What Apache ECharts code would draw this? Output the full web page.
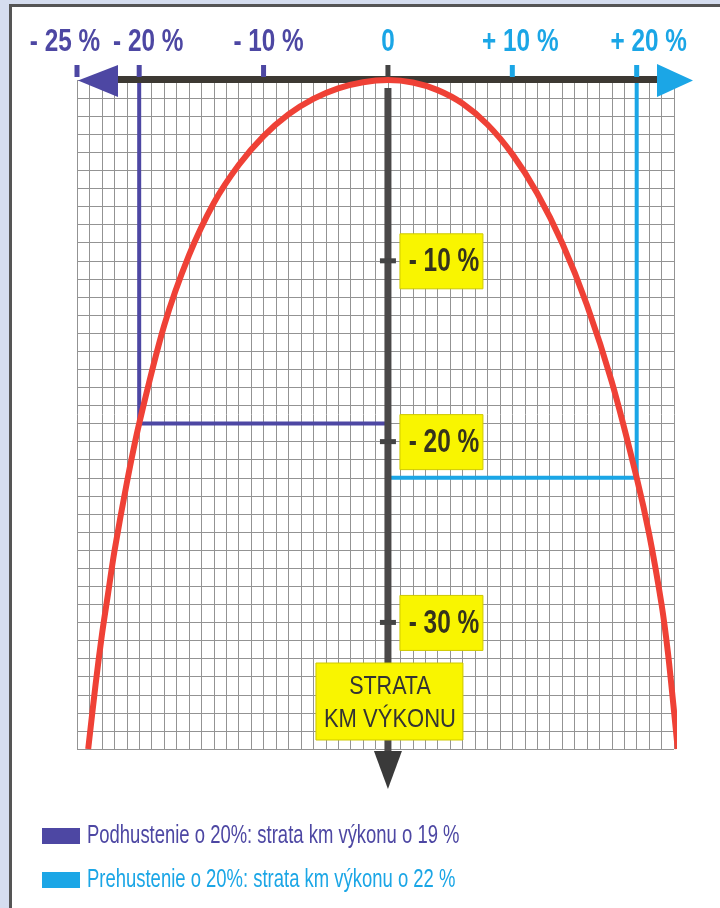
<!DOCTYPE html>
<html>
<head>
<meta charset="utf-8">
<script src="https://cdn.jsdelivr.net/npm/echarts@6.0.0/dist/echarts.min.js"></script>
<style>
  html, body { margin: 0; padding: 0; }
  body { width: 720px; height: 908px; background: #d5ddef; position: relative; overflow: hidden; }
  #frame { position: absolute; left: 9px; top: 4px; width: 720px; height: 920px; background: #ffffff; border-left: 3px solid #555; border-top: 3px solid #555; }
  #chart { position: absolute; left: 0; top: 0; width: 720px; height: 908px; }
</style>
</head>
<body>
<div id="frame"></div>
<div id="chart"></div>
<script>
// ---- data ----
const xMin = -25, xMax = 23, yMin = -37, yMax = 0;
const xTicks = [-25, -20, -10, 0, 10, 20];
const xTickLabels = ['- 25 %', '- 20 %', '- 10 %', '0', '+ 10 %', '+ 20 %'];
const yTicks = [-10, -20, -30];
const yTickLabels = ['- 10 %', '- 20 %', '- 30 %'];
const axisTitle = ['STRATA', 'KM VÝKONU'];

// pressure deviation (%) vs loss of km performance (%)
const curveX = [-24.1, -23.5, -23.0, -22.5, -22.0, -21.0, -20.0, -18.0, -16.0, -14.0, -12.0, -10.0, -8.0, -6.0, -4.0, -2.0, 0,
                2.0, 4.0, 6.0, 8.0, 10.0, 12.0, 14.0, 16.0, 18.0, 20.0, 21.0, 22.0, 22.5, 23.0, 23.3];
const curveY = [-37.0, -33.4, -30.7, -28.4, -26.1, -22.3, -19.0, -13.6, -9.7, -6.8, -4.7, -3.1, -1.9, -1.04, -0.46, -0.12, 0,
                -0.14, -0.56, -1.3, -2.46, -4.1, -6.26, -9.0, -12.44, -16.7, -22.0, -25.1, -29.0, -31.6, -34.9, -37.0];

const underX = [-20, -20, 0];
const underY = [0, -19, -19];
const overX = [20, 20, 0];
const overY = [0, -22, -22];

const legendUnder = 'Podhustenie o 20%: strata km výkonu o 19 %';
const legendOver = 'Prehustenie o 20%: strata km výkonu o 22 %';

// ---- styles ----
const C_UNDER = '#4d47a3';
const C_OVER = '#1ba6e6';
const C_RED = '#ef4136';
const C_AXIS = '#3d3933';
const C_YELLOW = '#f9f500';
const FONT = "'Liberation Sans', Arial, sans-serif";
const labelShift = [-12, 9, 5, 0, 8, 12];

const zip = (a, b) => a.map((v, i) => [v, b[i]]);

const chart = echarts.init(document.getElementById('chart'), null, { renderer: 'canvas' });

function narrowText(text, x, y, size, weight, color, sx, align) {
  return {
    type: 'text', x: x, y: y, scaleX: sx, scaleY: 1,
    style: { text: text, x: 0, y: 0, fill: color, fontSize: size, fontWeight: weight,
      fontFamily: FONT, align: align || 'center', verticalAlign: 'middle' }
  };
}

function renderAxes(params, api) {
  const o = api.coord([0, 0]);
  const l = api.coord([xMin, 0]);
  const r = api.coord([xMax, 0]);
  const b = api.coord([0, yMin]);
  return {
    type: 'group',
    children: [
      { type: 'rect', shape: { x: o[0] - 3.5, y: o[1] + 8, width: 7, height: b[1] + 4 - (o[1] + 8) }, style: { fill: '#4a4848' } },
      { type: 'polygon', shape: { points: [[o[0] - 14, b[1] + 2], [o[0] + 14, b[1] + 2], [o[0], b[1] + 40]] }, style: { fill: '#3a3a3a' } },
      { type: 'rect', shape: { x: l[0] + 33, y: o[1] - 4, width: (r[0] - 11) - (l[0] + 33), height: 7 }, style: { fill: C_AXIS } },
      { type: 'polygon', shape: { points: [[l[0] + 1, o[1] + 0.5], [l[0] + 41, o[1] - 15], [l[0] + 41, o[1] + 17]] }, style: { fill: C_UNDER } },
      { type: 'polygon', shape: { points: [[r[0] - 17, o[1] - 16], [r[0] + 19, o[1] + 0.5], [r[0] - 17, o[1] + 17]] }, style: { fill: C_OVER } }
    ]
  };
}

function renderXTicks(params, api) {
  const v = api.value(0);
  const i = api.value(2);
  const p = api.coord([v, 0]);
  const col = v < 0 ? C_UNDER : (v === 0 ? '#444' : C_OVER);
  const tcol = v < 0 ? C_UNDER : C_OVER;
  return {
    type: 'group',
    children: [
      { type: 'rect', shape: { x: p[0] - 2.5, y: p[1] - 15, width: 5, height: 12 }, style: { fill: col } },
      narrowText(xTickLabels[i], p[0] + labelShift[i], p[1] - 38, 32, 'bold', tcol, 0.76)
    ]
  };
}

function renderYTicks(params, api) {
  const v = api.value(1);
  const i = api.value(2);
  const p = api.coord([0, v]);
  return {
    type: 'group',
    children: [
      { type: 'rect', shape: { x: p[0] - 8, y: p[1] - 2.5, width: 16, height: 5 }, style: { fill: '#444' } },
      { type: 'rect', shape: { x: p[0] + 12, y: p[1] - 27, width: 83, height: 55 }, style: { fill: C_YELLOW, stroke: '#cfc900', lineWidth: 1 } },
      narrowText(yTickLabels[i], p[0] + 56, p[1] + 1, 33, 'bold', '#35331c', 0.74)
    ]
  };
}

function renderTitle(params, api) {
  const b = api.coord([0, yMin]);
  return {
    type: 'group',
    children: [
      { type: 'rect', shape: { x: b[0] - 72, y: b[1] - 86, width: 147, height: 77 }, style: { fill: C_YELLOW, stroke: '#cfc900', lineWidth: 1 } },
      narrowText(axisTitle[0], b[0] + 2, b[1] - 62, 25, 'normal', '#333', 0.86),
      narrowText(axisTitle[1], b[0] + 2, b[1] - 29, 25, 'normal', '#333', 0.88)
    ]
  };
}

const option = {
  backgroundColor: 'transparent',
  animation: false,
  grid: { left: 77, right: 46, top: 80, bottom: 159, containLabel: false },
  xAxis: {
    type: 'value', min: xMin, max: xMax, interval: 1,
    axisLine: { show: false }, axisTick: { show: false }, axisLabel: { show: false },
    splitLine: { show: true, lineStyle: { color: '#939393', width: 1 } }
  },
  yAxis: {
    type: 'value', min: yMin, max: yMax, interval: 1,
    axisLine: { show: false }, axisTick: { show: false }, axisLabel: { show: false },
    splitLine: { show: true, lineStyle: { color: '#939393', width: 1 } }
  },
  graphic: [
    { type: 'group', left: 42, top: 823, children: [
      { type: 'rect', shape: { x: 0, y: 0, width: 38, height: 16 }, style: { fill: C_UNDER } },
      narrowText(legendUnder, 45, 8, 26, 'normal', C_UNDER, 0.71, 'left'),
      { type: 'rect', shape: { x: 0, y: 44, width: 38, height: 16 }, style: { fill: C_OVER } },
      narrowText(legendOver, 45, 52, 26, 'normal', C_OVER, 0.71, 'left')
    ] }
  ],
  series: [
    { type: 'custom', name: 'axes', z: 4.5, clip: false, silent: true, renderItem: renderAxes, data: [[0, 0]] },
    { type: 'line', name: legendUnder, z: 4, data: zip(underX, underY), symbol: 'none',
      lineStyle: { color: C_UNDER, width: 4 }, itemStyle: { color: C_UNDER } },
    { type: 'line', name: legendOver, z: 4, data: zip(overX, overY), symbol: 'none',
      lineStyle: { color: C_OVER, width: 4 }, itemStyle: { color: C_OVER } },
    { type: 'line', name: 'curve', z: 5, data: zip(curveX, curveY), symbol: 'none', smooth: 0.3,
      lineStyle: { color: C_RED, width: 6 }, itemStyle: { color: C_RED } },
    { type: 'custom', name: 'xticks', z: 6, clip: false, silent: true, renderItem: renderXTicks,
      data: xTicks.map((v, i) => [v, 0, i]) },
    { type: 'custom', name: 'yticks', z: 6, clip: false, silent: true, renderItem: renderYTicks,
      data: yTicks.map((v, i) => [0, v, i]) },
    { type: 'custom', name: 'title', z: 6, clip: false, silent: true, renderItem: renderTitle, data: [[0, yMin]] }
  ]
};
chart.setOption(option);
</script>
</body>
</html>
